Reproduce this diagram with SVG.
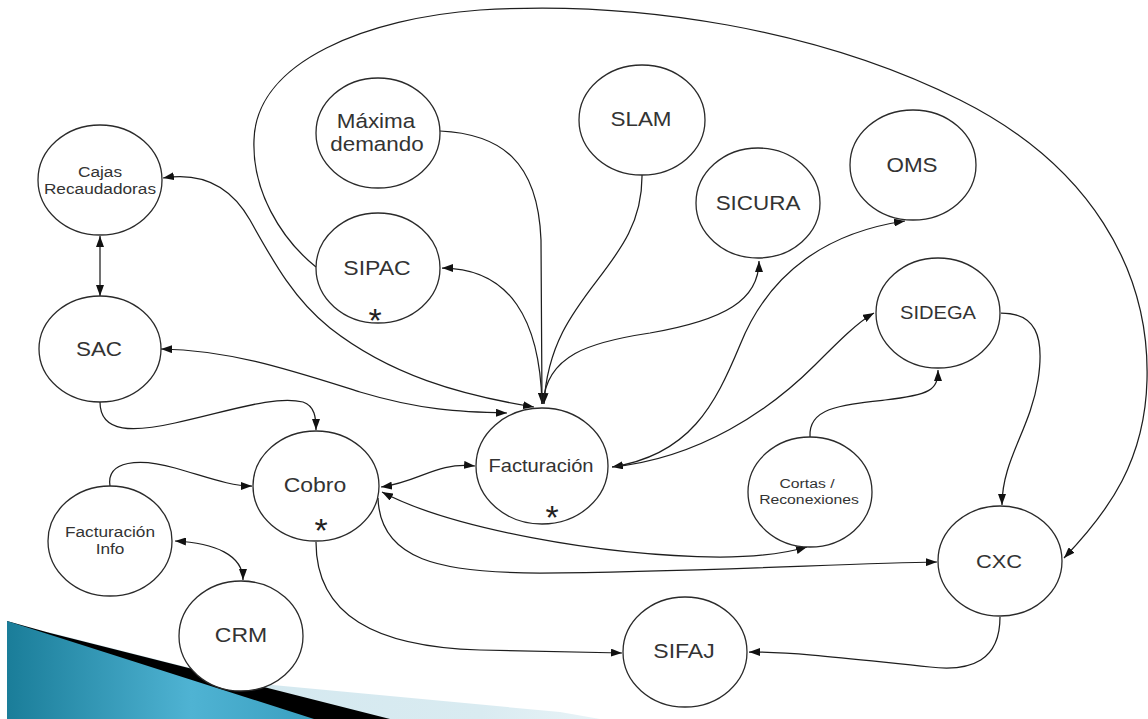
<svg xmlns="http://www.w3.org/2000/svg" width="1148" height="719" viewBox="0 0 1148 719">
<style>
.n{fill:#fff;stroke:#2a2a2a;stroke-width:1.3}
.c{fill:none;stroke:#1e1e1e;stroke-width:1.25}
.t{font-family:"Liberation Sans",Arial,sans-serif;fill:#333;text-anchor:middle}
.s{font-family:"Liberation Sans",Arial,sans-serif;fill:#222;text-anchor:middle;font-size:34px}
</style>
<defs>
<marker id="ah" viewBox="0 0 11 8" refX="11" refY="4" markerWidth="11" markerHeight="8" markerUnits="userSpaceOnUse" orient="auto-start-reverse">
<path d="M0,0 L11,4 L0,8 z" fill="#111"/>
</marker>
<linearGradient id="blue" x1="0" y1="0" x2="1" y2="0">
<stop offset="0" stop-color="#1a7d99"/>
<stop offset="0.6" stop-color="#4fb3d3"/>
<stop offset="1" stop-color="#3a9fc0"/>
</linearGradient>
<linearGradient id="light" x1="0" y1="0" x2="1" y2="0">
<stop offset="0" stop-color="#cfe6ee"/>
<stop offset="0.8" stop-color="#d9ebf1"/>
<stop offset="1" stop-color="#e8f3f7"/>
</linearGradient>
</defs>
<rect width="1148" height="719" fill="#fff"/>
<g id="decoration">
<polygon points="48,632 250,683 560,712 600,719 7,719" fill="url(#light)"/>
<polygon points="50,633 390,719 7,719 7,621" fill="#000"/>
<polygon points="7,621 314,719 7,719" fill="url(#blue)"/>
</g>
<g id="connectors" class="c">
<path class="c" d="M100,236 L100,296" marker-start="url(#ah)" marker-end="url(#ah)"/>
<path class="c" d="M163,178 C200,172 230,185 250,220 C275,265 295,300 330,328 C390,375 460,395 534,407" marker-start="url(#ah)" marker-end="url(#ah)"/>
<path class="c" d="M161,349 C230,350 290,370 360,392 C420,410 460,412 507,413" marker-start="url(#ah)" marker-end="url(#ah)"/>
<path class="c" d="M316,267 C280,238 252,190 254,140 C256,60 370,18 480,10 C640,0 820,30 960,100 C1090,165 1150,270 1147,380 C1145,460 1110,510 1064,558" marker-end="url(#ah)"/>
<path class="c" d="M440,131 C500,134 538,160 541,240 L542,404" marker-end="url(#ah)"/>
<path class="c" d="M642,175 C643,270 550,290 544,404" marker-end="url(#ah)"/>
<path class="c" d="M542,404 C540,320 510,268 442,268" marker-end="url(#ah)"/>
<path class="c" d="M543,404 C546,355 590,342 650,333 C725,320 759,300 759,261" marker-end="url(#ah)"/>
<path class="c" d="M612,467 C690,455 715,405 740,345 C770,270 830,232 905,221" marker-start="url(#ah)" marker-end="url(#ah)"/>
<path class="c" d="M612,467 C700,458 770,410 815,365 C840,340 858,322 874,313" marker-end="url(#ah)"/>
<path class="c" d="M1001,313 C1035,313 1045,335 1038,380 C1030,430 1002,460 1002,505" marker-end="url(#ah)"/>
<path class="c" d="M810,437 C808,408 840,405 885,400 C930,395 938,390 938,370" marker-end="url(#ah)"/>
<path class="c" d="M381,487 C420,482 435,462 475,466" marker-start="url(#ah)" marker-end="url(#ah)"/>
<path class="c" d="M382,492 C450,528 600,556 720,557 C765,557 790,552 807,547" marker-start="url(#ah)" marker-end="url(#ah)"/>
<path class="c" d="M378,498 C380,560 440,573 540,573 C700,572 850,563 937,562" marker-end="url(#ah)"/>
<path class="c" d="M100,402 C100,434 135,432 175,423 C230,411 275,395 303,402 C315,406 316,418 316,430" marker-end="url(#ah)"/>
<path class="c" d="M110,486 C106,460 140,458 175,468 C210,478 230,486 252,486" marker-end="url(#ah)"/>
<path class="c" d="M175,541 C215,543 243,555 243,580" marker-start="url(#ah)" marker-end="url(#ah)"/>
<path class="c" d="M316,542 C316,615 375,647 480,650 C540,651 590,652 622,653" marker-end="url(#ah)"/>
<path class="c" d="M1000,617 C1000,660 972,672 930,667 C860,660 800,652 749,652" marker-end="url(#ah)"/>
</g>
<g id="n-cajas"><ellipse class="n" cx="100" cy="180" rx="62" ry="55"/>
<text class="t" font-size="15" transform="translate(100,0) scale(1.15,1)" x="0" y="177">Cajas</text>
<text class="t" font-size="15" transform="translate(100,0) scale(1.15,1)" x="0" y="194">Recaudadoras</text></g>
<g id="n-sac"><ellipse class="n" cx="100" cy="349" rx="61" ry="53"/>
<text class="t" font-size="19.5" transform="translate(99,0) scale(1.15,1)" x="0" y="356">SAC</text></g>
<g id="n-maxima"><ellipse class="n" cx="378" cy="133" rx="62" ry="55"/>
<text class="t" font-size="19.5" transform="translate(376,0) scale(1.15,1)" x="0" y="128">Máxima</text>
<text class="t" font-size="19.5" transform="translate(377,0) scale(1.15,1)" x="0" y="151">demando</text></g>
<g id="n-sipac"><ellipse class="n" cx="378" cy="268" rx="62" ry="55"/>
<text class="t" font-size="20" transform="translate(377,0) scale(1.15,1)" x="0" y="275">SIPAC</text>
<text class="s" x="375" y="332">*</text></g>
<g id="n-slam"><ellipse class="n" cx="642" cy="120" rx="63" ry="55"/>
<text class="t" font-size="19.5" transform="translate(641,0) scale(1.15,1)" x="0" y="126">SLAM</text></g>
<g id="n-sicura"><ellipse class="n" cx="758" cy="203" rx="62" ry="55"/>
<text class="t" font-size="19.5" transform="translate(758,0) scale(1.15,1)" x="0" y="210">SICURA</text></g>
<g id="n-oms"><ellipse class="n" cx="913" cy="165" rx="63" ry="55"/>
<text class="t" font-size="19.5" transform="translate(912,0) scale(1.15,1)" x="0" y="172">OMS</text></g>
<g id="n-sidega"><ellipse class="n" cx="938" cy="313" rx="62" ry="55"/>
<text class="t" font-size="17.5" transform="translate(938,0) scale(1.15,1)" x="0" y="319">SIDEGA</text></g>
<g id="n-facturacion"><ellipse class="n" cx="542" cy="466" rx="66" ry="58"/>
<text class="t" font-size="17.5" transform="translate(541,0) scale(1.15,1)" x="0" y="472">Facturación</text>
<text class="s" x="552" y="529">*</text></g>
<g id="n-cortas"><ellipse class="n" cx="810" cy="492" rx="62" ry="55"/>
<text class="t" font-size="13.7" transform="translate(807,0) scale(1.15,1)" x="0" y="488">Cortas /</text>
<text class="t" font-size="13.7" transform="translate(809,0) scale(1.15,1)" x="0" y="504">Reconexiones</text></g>
<g id="n-cxc"><ellipse class="n" cx="1000" cy="561" rx="62" ry="55"/>
<text class="t" font-size="19" transform="translate(999,0) scale(1.15,1)" x="0" y="568">CXC</text></g>
<g id="n-sifaj"><ellipse class="n" cx="685" cy="652" rx="62" ry="55"/>
<text class="t" font-size="20" transform="translate(684,0) scale(1.15,1)" x="0" y="658">SIFAJ</text></g>
<g id="n-cobro"><ellipse class="n" cx="316" cy="486" rx="63" ry="55"/>
<text class="t" font-size="20" transform="translate(315,0) scale(1.15,1)" x="0" y="492">Cobro</text>
<text class="s" x="321" y="542">*</text></g>
<g id="n-facinfo"><ellipse class="n" cx="110" cy="541" rx="62" ry="55"/>
<text class="t" font-size="15" transform="translate(110,0) scale(1.15,1)" x="0" y="537">Facturación</text>
<text class="t" font-size="15" transform="translate(110,0) scale(1.15,1)" x="0" y="554">Info</text></g>
<g id="n-crm"><ellipse class="n" cx="241" cy="636" rx="62" ry="55"/>
<text class="t" font-size="20" transform="translate(241,0) scale(1.15,1)" x="0" y="642">CRM</text></g>
</svg>
